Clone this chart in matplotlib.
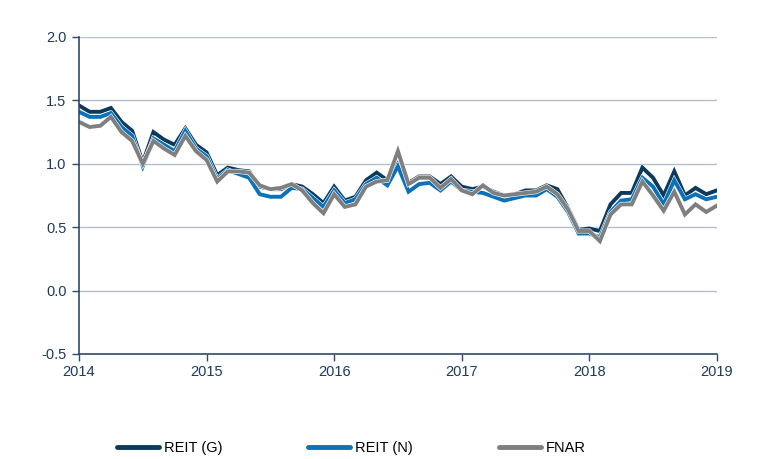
import numpy as np
import pandas as pd
import matplotlib
matplotlib.use("Agg")
import matplotlib.pyplot as plt
import matplotlib.patheffects as pe

plt.rcParams['font.family'] = ['Liberation Sans', 'DejaVu Sans']

# monthly values, Jan 2014 .. Jan 2019
reitG = [1.46, 1.41, 1.41, 1.44, 1.33, 1.26, 1.01, 1.25, 1.19, 1.15, 1.28, 1.15,
         1.09, 0.91, 0.97, 0.95, 0.94, 0.82, 0.80, 0.80, 0.84, 0.82, 0.76, 0.69,
         0.82, 0.71, 0.74, 0.87, 0.93, 0.87, 1.00, 0.85, 0.90, 0.90, 0.84, 0.90,
         0.82, 0.80, 0.82, 0.78, 0.75, 0.76, 0.79, 0.79, 0.83, 0.80, 0.65, 0.48,
         0.49, 0.47, 0.68, 0.77, 0.77, 0.97, 0.89, 0.75, 0.94, 0.75, 0.81, 0.76, 0.79]
reitN = [1.41, 1.37, 1.37, 1.40, 1.29, 1.22, 0.98, 1.20, 1.15, 1.10, 1.26, 1.12,
         1.06, 0.88, 0.95, 0.92, 0.89, 0.76, 0.74, 0.74, 0.81, 0.80, 0.73, 0.66,
         0.79, 0.69, 0.72, 0.84, 0.89, 0.83, 0.98, 0.78, 0.84, 0.85, 0.79, 0.86,
         0.79, 0.78, 0.77, 0.74, 0.71, 0.73, 0.75, 0.75, 0.80, 0.74, 0.62, 0.45,
         0.45, 0.42, 0.62, 0.71, 0.72, 0.89, 0.82, 0.68, 0.87, 0.72, 0.76, 0.72, 0.74]
fnar = [1.33, 1.29, 1.30, 1.37, 1.25, 1.18, 1.00, 1.18, 1.12, 1.07, 1.22, 1.10,
        1.03, 0.86, 0.94, 0.94, 0.93, 0.83, 0.80, 0.81, 0.84, 0.79, 0.69, 0.61,
        0.76, 0.66, 0.68, 0.82, 0.86, 0.87, 1.10, 0.84, 0.89, 0.89, 0.81, 0.88,
        0.79, 0.76, 0.83, 0.77, 0.75, 0.76, 0.77, 0.78, 0.82, 0.76, 0.64, 0.47,
        0.47, 0.39, 0.60, 0.68, 0.68, 0.86, 0.75, 0.63, 0.78, 0.60, 0.68, 0.62, 0.67]
names = ["REIT (G)", "REIT (N)", "FNAR"]
colors = ["#0d3a5c", "#0a72b8", "#7f7f7f"]
yearTicks = [2014, 2015, 2016, 2017, 2018, 2019]

dates = pd.date_range("2014-01-01", periods=len(reitG), freq="MS")
x = dates.year + (dates.month - 1) / 12.0

fig = plt.figure(figsize=(7.65, 4.59), dpi=100)
ax = fig.add_axes([0.1033, 0.2288, 0.8337, 0.6906])

axisCol = "#2d4a6b"
for s in ["top", "right"]:
    ax.spines[s].set_visible(False)
ax.spines["left"].set_color(axisCol)
ax.spines["bottom"].set_color(axisCol)
ax.spines["left"].set_linewidth(1.2)
ax.spines["bottom"].set_linewidth(1.2)

for yv in [0.0, 0.5, 1.0, 1.5, 2.0]:
    ax.axhline(yv, color="#b3bfcc", linewidth=1.0, zorder=0)

series = [reitG, reitN, fnar]
for vals, nm, c in zip(series, names, colors):
    ax.plot(x, vals, color=c, linewidth=2.8, label=nm, solid_joinstyle="miter",
            path_effects=[pe.Stroke(linewidth=3.6, foreground="white"), pe.Normal()])

ax.set_xlim(2014, 2019)
ax.set_ylim(-0.5, 2.0)
ax.set_xticks(yearTicks)
ax.set_xticklabels([str(y) for y in yearTicks])
ax.set_yticks(np.arange(-0.5, 2.01, 0.5))
ax.set_yticklabels(["%.1f" % v for v in np.arange(-0.5, 2.01, 0.5)])
ax.tick_params(axis="both", colors=axisCol, labelcolor="#1f3a5a", labelsize=10.5,
               length=5, width=1.0)
ax.tick_params(axis="x", pad=3)
ax.tick_params(axis="y", pad=4)

handles = [plt.Line2D([], [], color=c, linewidth=3.5, solid_capstyle="round") for c in colors]
fig.legend(handles, names, loc="center", bbox_to_anchor=(0.459, 0.024), ncol=3,
           frameon=False, fontsize=10.5, handlelength=2.9, handletextpad=0.3,
           columnspacing=5.9)

fig.savefig("out.png", dpi=100)
